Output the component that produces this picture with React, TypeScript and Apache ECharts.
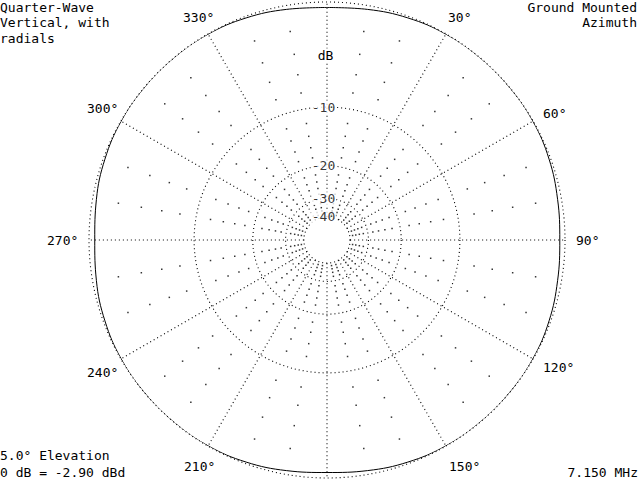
import { useEffect, useRef } from 'react';
import * as echarts from 'echarts';

// azimuth pattern, dB relative to the outer ring
const PATTERN_AZ = [
  0, 10, 20, 30, 40, 50, 60, 70, 80, 90, 100, 110, 120, 130, 140, 150, 160, 170,
  180, 190, 200, 210, 220, 230, 240, 250, 260, 270, 280, 290, 300, 310, 320, 330, 340, 350, 360,
];
const PATTERN_DB = [
  -0.4, -0.28, -0.12, -0.02, 0, 0, -0.02, -0.12, -0.28, -0.38, -0.28, -0.12, -0.02, 0, 0, -0.02, -0.12, -0.28,
  -0.4, -0.28, -0.12, -0.02, 0, 0, -0.02, -0.12, -0.28, -0.42, -0.28, -0.12, -0.02, 0, 0, -0.02, -0.12, -0.28, -0.4,
];

const RING_DB = [0, -10, -20, -30, -40];
const RING_LABELS = ['-10', '-20', '-30', '-40'];
const SPOKE_AZ = [0, 30, 60, 90, 120, 150, 180, 210, 240, 270, 300, 330];
const DOT_AZ = [10, 20, 40, 50, 70, 80, 100, 110, 130, 140, 160, 170, 190, 200, 220, 230, 250, 260, 280, 290, 310, 320, 340, 350];
const DOT_DB = [-2, -4, -6, -8, -12, -14, -16, -18, -22, -24, -26, -28, -32, -34, -36, -38];

const ANGLE_LABELS = ['30°', '60°', '90°', '120°', '150°', '210°', '240°', '270°', '300°', '330°'];
const ANGLE_LABEL_POS = [
  [448, 17.5], [543, 113], [576, 240], [543, 367], [449, 466],
  [184, 466], [87, 372], [47, 240], [87, 108], [183, 17.5],
];

const TITLE_LEFT = ['Quarter-Wave', 'Vertical, with', 'radials'];
const TITLE_RIGHT = ['Ground Mounted', 'Azimuth'];
const FOOT_LEFT = ['5.0° Elevation', '0 dB = -2.90 dBd'];
const FOOT_RIGHT = '7.150 MHz';

const FONT = '"DejaVu Sans Mono", "Liberation Mono", monospace';
const DOTTED: number[] = [1, 3];

// ARRL log scale: 2 dB per 0.89 step
const arrl = (db: number) => Math.pow(0.89, -db / 2);

function txt(text: string, x: number, y: number, align = 'left', bg = false) {
  return {
    type: 'text',
    x,
    y,
    z: 100,
    style: {
      text,
      fill: '#000',
      fontFamily: FONT,
      fontSize: 13,
      align,
      verticalAlign: 'middle',
      backgroundColor: bg ? '#fff' : undefined,
    },
  };
}

export default function App() {
  const ref = useRef<HTMLDivElement>(null);

  useEffect(() => {
    if (!ref.current) return;
    const chart = echarts.init(ref.current, undefined, { renderer: 'svg' });

    const r40 = arrl(-40);
    const spokes = SPOKE_AZ.map((a) => ({
      type: 'line',
      coordinateSystem: 'polar',
      symbol: 'none',
      silent: true,
      lineStyle: { color: '#000', width: 1.1, type: DOTTED },
      data: [[r40, a], [1, a]],
    }));

    const dots: number[][] = [];
    DOT_AZ.forEach((a) => DOT_DB.forEach((d) => dots.push([arrl(d), a])));

    const graphics: any[] = [];
    TITLE_LEFT.forEach((t, i) => graphics.push(txt(t, 0, 7 + i * 15.5)));
    TITLE_RIGHT.forEach((t, i) => graphics.push(txt(t, 637, 7 + i * 15.5, 'right')));
    FOOT_LEFT.forEach((t, i) => graphics.push(txt(t, 0, 455 + i * 17)));
    graphics.push(txt(FOOT_RIGHT, 638, 472, 'right'));
    ANGLE_LABELS.forEach((t, i) => graphics.push(txt(t, ANGLE_LABEL_POS[i][0], ANGLE_LABEL_POS[i][1])));
    graphics.push(txt('dB', 325.5, 55, 'center', true));

    chart.setOption({
      animation: false,
      polar: { center: [327, 240], radius: 238 },
      angleAxis: {
        type: 'value',
        min: 0,
        max: 360,
        startAngle: 90,
        clockwise: true,
        axisLine: { show: false },
        axisTick: { show: false },
        axisLabel: { show: false },
        splitLine: { show: false },
      },
      radiusAxis: {
        type: 'value',
        min: 0,
        max: 1,
        axisLine: { show: false },
        axisLabel: { show: false },
        axisTick: { show: false, customValues: RING_DB.map(arrl) },
        splitLine: { show: true, lineStyle: { color: '#000', width: 1.1, type: DOTTED } },
      },
      graphic: graphics,
      series: [
        ...spokes,
        {
          type: 'scatter',
          coordinateSystem: 'polar',
          symbol: 'rect',
          symbolSize: 1.5,
          silent: true,
          itemStyle: { color: '#000' },
          data: dots,
        },
        {
          type: 'line',
          coordinateSystem: 'polar',
          symbol: 'none',
          smooth: 0.4,
          lineStyle: { color: '#000', width: 1 },
          data: PATTERN_AZ.map((a, i) => [arrl(PATTERN_DB[i]), a]),
        },
        {
          type: 'scatter',
          coordinateSystem: 'polar',
          symbolSize: 0,
          z: 10,
          label: {
            show: true,
            position: 'inside',
            formatter: '{b}',
            offset: [-3.5, 0],
            color: '#000',
            fontFamily: FONT,
            fontSize: 13,
            backgroundColor: '#fff',
            padding: [0, 1],
          },
          data: RING_LABELS.map((t, i) => ({ name: t, value: [arrl(RING_DB[i + 1]), 0] })),
        },
      ],
    });

    return () => {
      chart.dispose();
    };
  }, []);

  return (
    <div
      ref={ref}
      style={{ position: 'fixed', left: 0, top: 0, width: 640, height: 480, background: '#fff' }}
    />
  );
}
